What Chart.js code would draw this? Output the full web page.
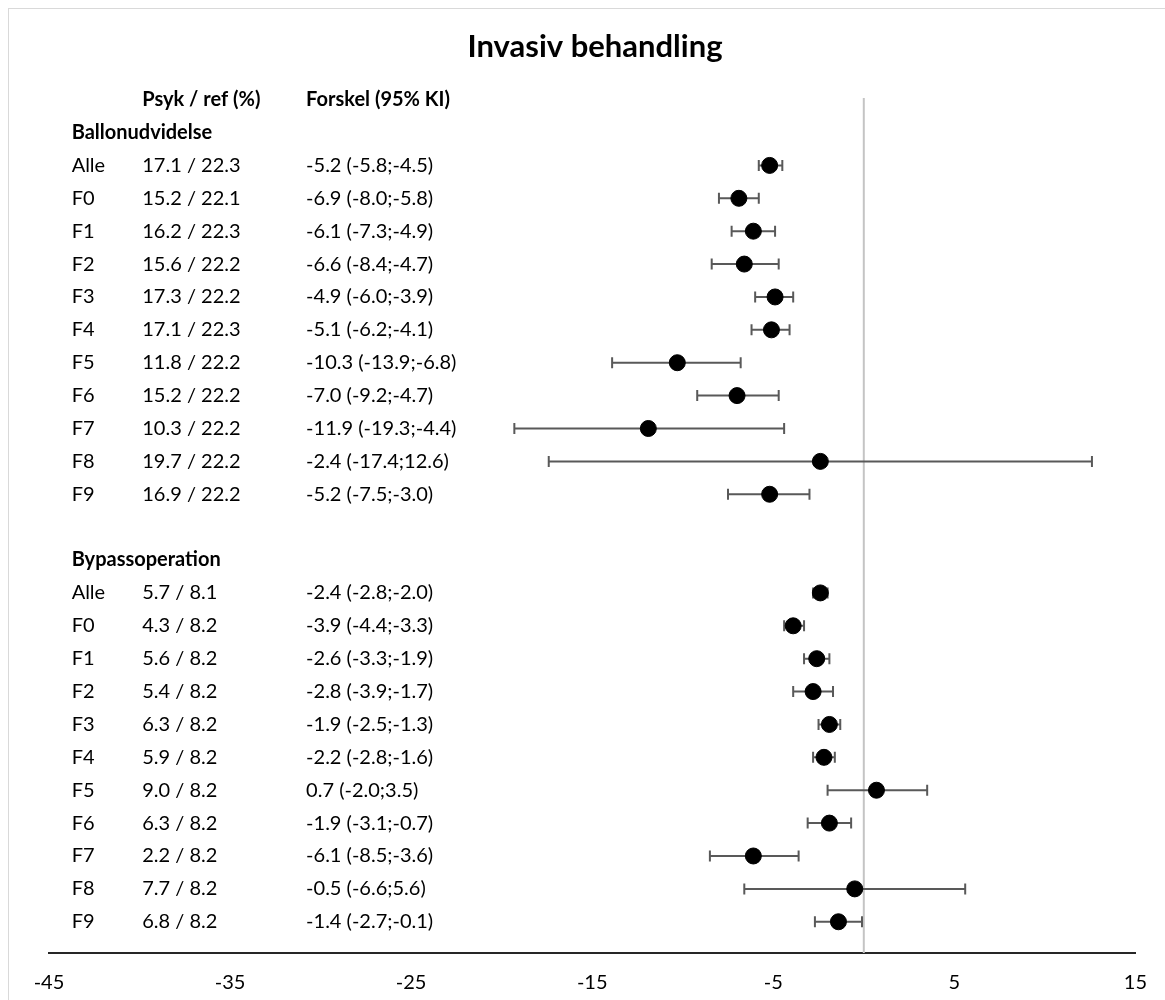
<!DOCTYPE html>
<html>
<head>
<meta charset="utf-8">
<title>Invasiv behandling</title>
<script src="https://cdn.jsdelivr.net/npm/chart.js@4/dist/chart.umd.min.js"></script>
<style>
  body { margin: 0; background: #fff; overflow: hidden; }
  #wrap { position: relative; width: 1165px; height: 1000px; }
  #frame { position: absolute; left: 8px; top: 8px; width: 1200px; height: 1100px; border: 1px solid #d9d9d9; }
  #chart { position: absolute; left: 0; top: 0; }
</style>
</head>
<body>
<div id="wrap">
  <div id="frame"></div>
  <canvas id="chart" width="1165" height="1000"></canvas>
</div>
<script>
// Data
const groups = ["Ballonudvidelse", "Bypassoperation"];
const categories = ["Alle", "F0", "F1", "F2", "F3", "F4", "F5", "F6", "F7", "F8", "F9"];

const ballonPsyk = [17.1, 15.2, 16.2, 15.6, 17.3, 17.1, 11.8, 15.2, 10.3, 19.7, 16.9];
const ballonRef = [22.3, 22.1, 22.3, 22.2, 22.2, 22.3, 22.2, 22.2, 22.2, 22.2, 22.2];
const ballonDiff = [-5.2, -6.9, -6.1, -6.6, -4.9, -5.1, -10.3, -7.0, -11.9, -2.4, -5.2];
const ballonLow = [-5.8, -8.0, -7.3, -8.4, -6.0, -6.2, -13.9, -9.2, -19.3, -17.4, -7.5];
const ballonHigh = [-4.5, -5.8, -4.9, -4.7, -3.9, -4.1, -6.8, -4.7, -4.4, 12.6, -3.0];

const bypassPsyk = [5.7, 4.3, 5.6, 5.4, 6.3, 5.9, 9.0, 6.3, 2.2, 7.7, 6.8];
const bypassRef = [8.1, 8.2, 8.2, 8.2, 8.2, 8.2, 8.2, 8.2, 8.2, 8.2, 8.2];
const bypassDiff = [-2.4, -3.9, -2.6, -2.8, -1.9, -2.2, 0.7, -1.9, -6.1, -0.5, -1.4];
const bypassLow = [-2.8, -4.4, -3.3, -3.9, -2.5, -2.8, -2.0, -3.1, -8.5, -6.6, -2.7];
const bypassHigh = [-2.0, -3.3, -1.9, -1.7, -1.3, -1.6, 3.5, -0.7, -3.6, 5.6, -0.1];

const xTicks = [-45, -35, -25, -15, -5, 5, 15];

// Column positions of the text table, in x-axis units
const colLabel = -43.75;
const colPct = -39.85;
const colDiff = -30.8;

const fontName = "Lato, 'Open Sans', sans-serif";
const fmt = (v) => v.toFixed(1);

// Build the rows: header row 0, group title, 11 rows, blank, group title, 11 rows
const rows = [];
const points = [];
const sets = [
  { name: groups[0], psyk: ballonPsyk, ref: ballonRef, diff: ballonDiff, lo: ballonLow, hi: ballonHigh },
  { name: groups[1], psyk: bypassPsyk, ref: bypassRef, diff: bypassDiff, lo: bypassLow, hi: bypassHigh },
];
let row = 1;
sets.forEach((s) => {
  rows.push({ y: row, bold: true, cells: [[colLabel, s.name]] });
  row++;
  categories.forEach((c, i) => {
    rows.push({
      y: row,
      bold: false,
      cells: [
        [colLabel, c],
        [colPct, fmt(s.psyk[i]) + " / " + fmt(s.ref[i])],
        [colDiff, fmt(s.diff[i]) + " (" + fmt(s.lo[i]) + ";" + fmt(s.hi[i]) + ")"],
      ],
    });
    points.push({ x: s.diff[i], y: row, lo: s.lo[i], hi: s.hi[i] });
    row++;
  });
  row++; // blank row between groups
});

// Draws the text table, title and error bars
const forestPlugin = {
  id: "forest",
  beforeDatasetDraw(chart, args) {
    if (args.index !== 1) return;
    const { ctx, scales } = chart;
    ctx.save();
    ctx.strokeStyle = "#595959";
    ctx.lineWidth = 2;
    points.forEach((p) => {
      const y = scales.y.getPixelForValue(p.y);
      const x1 = scales.x.getPixelForValue(p.lo);
      const x2 = scales.x.getPixelForValue(p.hi);
      ctx.beginPath();
      ctx.moveTo(x1, y);
      ctx.lineTo(x2, y);
      ctx.moveTo(x1, y - 5.5);
      ctx.lineTo(x1, y + 5.5);
      ctx.moveTo(x2, y - 5.5);
      ctx.lineTo(x2, y + 5.5);
      ctx.stroke();
    });
    ctx.restore();
  },
  afterDraw(chart) {
    const { ctx, scales } = chart;
    ctx.save();
    ctx.fillStyle = "#000";
    ctx.textBaseline = "middle";
    ctx.textAlign = "left";

    // Header row
    ctx.font = "bold 20px " + fontName;
    const hy = scales.y.getPixelForValue(0);
    ctx.fillText("Psyk / ref (%)", scales.x.getPixelForValue(colPct), hy);
    ctx.fillText("Forskel (95% KI)", scales.x.getPixelForValue(colDiff), hy);

    rows.forEach((r) => {
      ctx.font = (r.bold ? "bold " : "") + "20px " + fontName;
      const y = scales.y.getPixelForValue(r.y);
      r.cells.forEach(([cx, text]) => {
        ctx.fillText(text, scales.x.getPixelForValue(cx), y);
      });
    });

    // Title
    ctx.font = "bold 31px " + fontName;
    ctx.textAlign = "center";
    ctx.fillText("Invasiv behandling", 595, 47);
    ctx.restore();
  },
};

const ctx = document.getElementById("chart").getContext("2d");
new Chart(ctx, {
  type: "scatter",
  data: {
    datasets: [
      {
        // Reference line at 0
        type: "line",
        data: [{ x: 0, y: -0.05 }, { x: 0, y: 25.95 }],
        borderColor: "#c4c4c4",
        borderWidth: 2,
        pointRadius: 0,
        order: 2,
      },
      {
        data: points,
        backgroundColor: "#000",
        borderColor: "#000",
        pointRadius: 8,
        pointHoverRadius: 8,
        order: 1,
      },
    ],
  },
  options: {
    responsive: false,
    animation: false,
    layout: { padding: { left: 49, right: 21, top: 98, bottom: 0 } },
    plugins: {
      legend: { display: false },
      tooltip: { enabled: false },
      title: { display: false },
    },
    scales: {
      x: {
        type: "linear",
        min: -45,
        max: 15,
        afterBuildTicks: (scale) => {
          scale.ticks = xTicks.map((v) => ({ value: v }));
        },
        afterFit: (scale) => {
          scale.height = 47;
        },
        grid: { display: false, drawTicks: false },
        border: { display: true, color: "#262626", width: 2 },
        ticks: {
          color: "#000",
          padding: 18,
          font: { family: fontName, size: 20 },
          maxRotation: 0,
        },
      },
      y: {
        type: "linear",
        min: -0.05,
        max: 25.95,
        reverse: true,
        display: false,
      },
    },
  },
  plugins: [forestPlugin],
});
</script>
</body>
</html>
